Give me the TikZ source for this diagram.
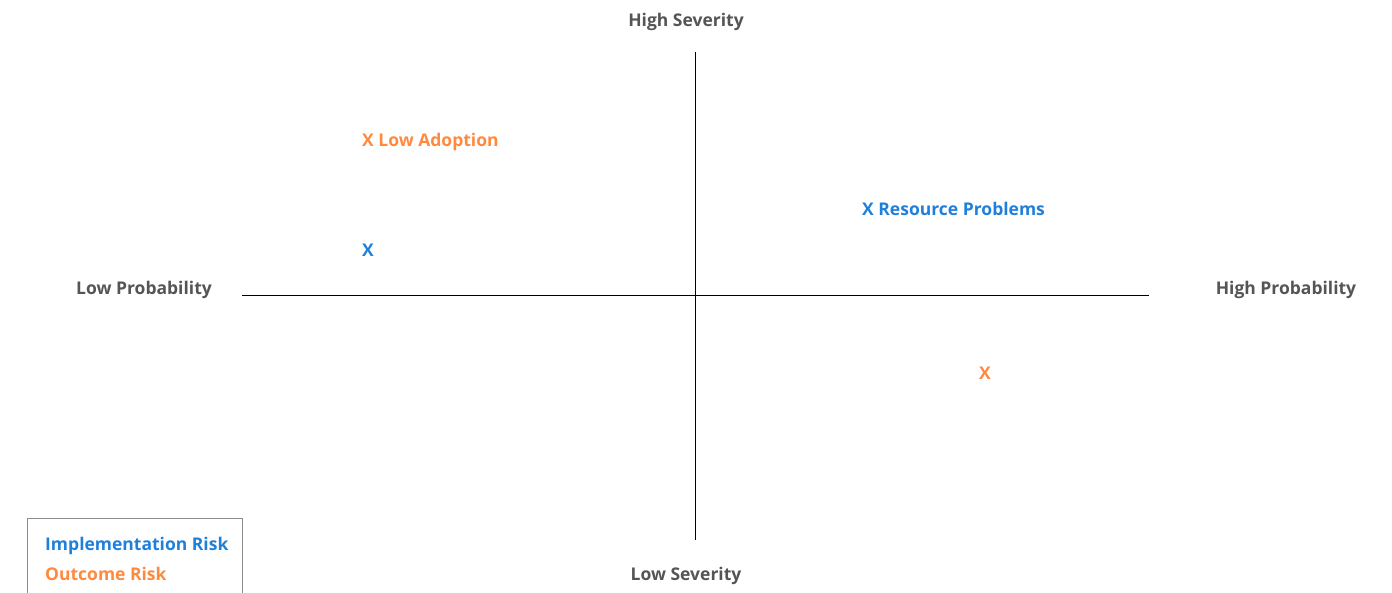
\documentclass[tikz,border=0pt]{standalone}
\usepackage{fontspec}
\setmainfont{Open Sans}
\definecolor{impblue}{HTML}{1F80DC}
\definecolor{outorange}{HTML}{FF8A3D}
\definecolor{labgray}{HTML}{555555}
\begin{document}
\begin{tikzpicture}[x=1pt,y=-1pt,
  axislabel/.style={text=labgray,font=\fontsize{17.5}{20}\selectfont\bfseries,inner sep=0pt},
  pointlabel/.style={font=\fontsize{17.5}{20}\selectfont\bfseries,inner sep=0pt,anchor=west},
  axisline/.style={draw=black,line width=1pt}]
\useasboundingbox (0,0) rectangle (1392,593);
\coordinate (hl) at (242,296);
\coordinate (hr) at (1149,296);
\coordinate (vt) at (695,52);
\coordinate (vb) at (695,540);
\draw[axisline] (hl) -- (hr);
\draw[axisline] (vt) -- (vb);
\node[axislabel] (hs) at (686,22) {High Severity};
\node[axislabel] (ls) at (686,576) {Low Severity};
\node[axislabel] (lp) at (144,290) {Low Probability};
\node[axislabel] (hp) at (1286,290) {High Probability};
\node[pointlabel,text=outorange] (la) at (362,142) {X Low Adoption};
\node[pointlabel,text=impblue] (x1) at (362,250) {X};
\node[pointlabel,text=impblue] (rp) at (862,209) {X Resource Problems};
\node[pointlabel,text=outorange] (x2) at (979,373) {X};
\draw[draw=gray!90,line width=0.9pt] (27,518) rectangle (242,610);
\node[pointlabel,text=impblue] (li) at (45,546) {Implementation Risk};
\node[pointlabel,text=outorange] (lo) at (45,574) {Outcome Risk};
\end{tikzpicture}
\end{document}
